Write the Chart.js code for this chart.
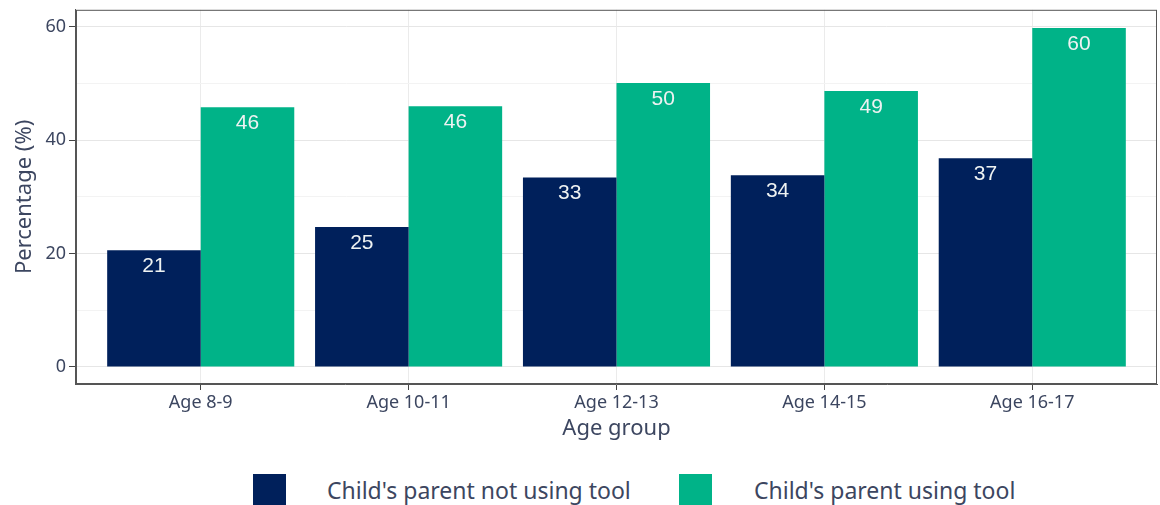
<!DOCTYPE html>
<html>
<head>
<meta charset="utf-8">
<script src="https://cdn.jsdelivr.net/npm/chart.js@4.4.1/dist/chart.umd.min.js"></script>
<style>
  html, body { margin: 0; padding: 0; background: #fff; }
  #wrap { position: relative; width: 1160px; height: 505px; overflow: hidden; }
  #chart { position: absolute; left: 0; top: -4px; }
  .sw { position: absolute; top: 474px; width: 33px; height: 34px; }
  .lt { position: absolute; top: 474px; line-height: 32px; white-space: nowrap;
        font-family: "Noto Sans", sans-serif; font-size: 23px; color: #3c4660; }
</style>
</head>
<body>
<div id="wrap">
  <canvas id="chart" width="1160" height="464"></canvas>
  <div id="legend"></div>
</div>
<script>
const categories = ["Age 8-9", "Age 10-11", "Age 12-13", "Age 14-15", "Age 16-17"];
const seriesNames = ["Child's parent not using tool", "Child's parent using tool"];
const notUsing = [20.6, 24.7, 33.4, 33.8, 36.8];
const using = [45.8, 46.0, 50.1, 48.7, 59.8];
const yTicks = [0, 10, 20, 30, 40, 50, 60];
const colors = ["#00205b", "#00b388"];

const textColor = "#3c4660";

const panelBorder = {
  id: 'panelBorder',
  afterDraw(chart) {
    const { ctx, chartArea: a } = chart;
    ctx.save();
    ctx.strokeStyle = '#555';
    ctx.lineWidth = 1;
    ctx.strokeRect(a.left + 0.5, a.top + 0.5, a.right - a.left - 1, a.bottom - a.top - 1);
    ctx.restore();
  }
};

const barLabels = {
  id: 'barLabels',
  afterDatasetsDraw(chart) {
    const { ctx } = chart;
    ctx.save();
    ctx.font = '21px "Liberation Sans", Arial, sans-serif';
    ctx.fillStyle = '#eef2f2';
    ctx.textAlign = 'center';
    ctx.textBaseline = 'middle';
    chart.data.datasets.forEach((ds, di) => {
      chart.getDatasetMeta(di).data.forEach((el, i) => {
        ctx.fillText(String(Math.round(ds.data[i].y)), el.x, el.y + 16);
      });
    });
    ctx.restore();
  }
};

const toPoints = arr => arr.map((v, i) => ({ x: i + 1, y: v }));

new Chart(document.getElementById('chart'), {
  type: 'bar',
  data: {
    datasets: [
      { label: seriesNames[0], data: toPoints(notUsing), backgroundColor: colors[0], borderWidth: 0 },
      { label: seriesNames[1], data: toPoints(using), backgroundColor: colors[1], borderWidth: 0 }
    ]
  },
  options: {
    responsive: false,
    animation: false,
    categoryPercentage: 0.9,
    barPercentage: 1.0,
    layout: { padding: { left: 12, right: 3, top: 0, bottom: 18 } },
    plugins: { legend: { display: false }, tooltip: { enabled: false } },
    scales: {
      x: {
        type: 'linear',
        offset: false,
        min: 0.4, max: 5.6,
        afterBuildTicks: s => { s.ticks = categories.map((c, i) => ({ value: i + 1 })); },
        ticks: {
          callback: v => categories[Math.round(v) - 1],
          color: textColor,
          font: { family: '"Noto Sans", sans-serif', size: 18 },
          padding: 2,
          maxRotation: 0, autoSkip: false
        },
        grid: { offset: false, color: '#ebebeb', lineWidth: 1, tickLength: 6, tickColor: '#444', drawTicks: true },
        border: { color: '#555', width: 1 },
        title: { display: true, text: 'Age group', color: textColor,
                 font: { family: '"Noto Sans", sans-serif', size: 22 }, padding: { top: 0, bottom: 0 } }
      },
      y: {
        min: -3, max: 63,
        afterBuildTicks: s => { s.ticks = yTicks.map(v => ({ value: v })); },
        ticks: {
          callback: v => (v % 20 === 0 ? String(v) : ''),
          color: textColor,
          font: { family: '"Noto Sans", sans-serif', size: 18 },
          padding: 3
        },
        grid: {
          color: c => (c.tick && c.tick.value % 20 === 0 ? '#e6e6e6' : '#f3f3f3'),
          tickColor: c => (c.tick && c.tick.value % 20 === 0 ? '#444' : 'rgba(0,0,0,0)'),
          tickLength: 7
        },
        border: { color: '#555', width: 1 },
        title: { display: true, text: 'Percentage (%)', color: textColor,
                 font: { family: '"Noto Sans", sans-serif', size: 22 }, padding: { top: 0, bottom: 4 } }
      }
    }
  },
  plugins: [panelBorder, barLabels]
});

const legend = document.getElementById('legend');
const swatchLeft = [253, 679];
const textLeft = [327, 754];
seriesNames.forEach((name, i) => {
  const sw = document.createElement('div');
  sw.className = 'sw';
  sw.style.left = swatchLeft[i] + 'px';
  sw.style.background = colors[i];
  const t = document.createElement('div');
  t.className = 'lt';
  t.style.left = textLeft[i] + 'px';
  t.textContent = name;
  legend.appendChild(sw);
  legend.appendChild(t);
});
</script>
</body>
</html>
